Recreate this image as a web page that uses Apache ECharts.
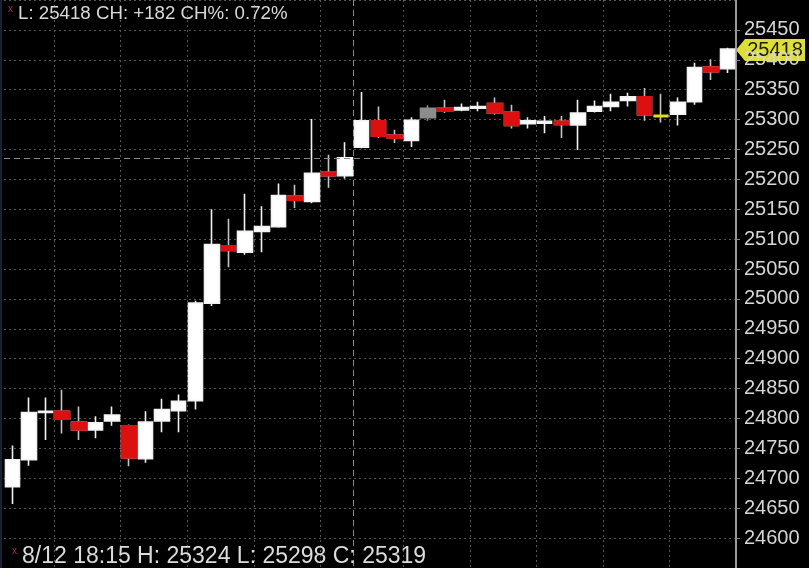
<!DOCTYPE html>
<html>
<head>
<meta charset="utf-8">
<script src="https://cdn.jsdelivr.net/npm/echarts@6/dist/echarts.min.js"></script>
<style>
html,body{margin:0;padding:0;background:#000;}
#c{width:809px;height:568px;}
</style>
</head>
<body>
<div id="c"></div>
<script>
// ---- data ----
const dateLabel = '8/12';
const times = ['10:15','10:30','10:45','11:00','11:15','11:30','11:45','13:00','13:15','13:30','13:45','14:00','14:15','14:30','14:45','15:00','15:15','15:30','15:45','16:00','16:15','17:15','17:30','17:45','18:00','18:15','18:30','18:45','19:00','19:15','19:30','19:45','20:00','20:15','20:30','20:45','21:00','21:15','21:30','21:45','22:00','22:15','22:30','22:45'];
const opens  = [24686,24731,24810,24812,24794,24781,24796,24788,24733,24796,24813,24830,24993,25089,25078,25113,25121,25172,25163,25212,25206,25254,25298,25274,25265,25303,25319,25316,25319,25327,25312,25293,25294,25297,25291,25314,25322,25332,25338,25306,25309,25330,25388,25385];
const closes = [24731,24810,24812,24799,24781,24793,24806,24734,24794,24815,24829,24993,25091,25081,25113,25121,25173,25165,25210,25206,25236,25298,25272,25269,25299,25319,25314,25320,25322,25311,25290,25298,25297,25292,25311,25322,25329,25338,25308,25306,25329,25387,25380,25418];
const lows   = [24657,24721,24764,24775,24764,24767,24788,24720,24726,24777,24777,24815,24988,25053,25074,25078,25119,25152,25160,25186,25201,25252,25269,25261,25254,25298,25311,25314,25314,25308,25285,25285,25277,25269,25249,25312,25314,25322,25298,25295,25290,25325,25366,25378];
const highs  = [24755,24835,24835,24848,24820,24804,24820,24790,24812,24833,24840,24997,25150,25134,25176,25155,25193,25191,25301,25241,25262,25346,25322,25283,25304,25324,25333,25327,25330,25337,25325,25304,25306,25306,25333,25332,25343,25345,25353,25343,25337,25395,25401,25420];
const prevClose = 25236;
const selectedTime = '18:15';
const yMin = 24550, yMax = 25500, yStep = 50;

// ---- derived ----
const n = times.length;
const selIdx = times.indexOf(selectedTime);
const last = closes[n - 1];
const ch = last - prevClose;
const chPct = (ch / prevClose * 100).toFixed(2);
function mins(t){const p=t.split(':');return +p[0]*60 + +p[1];}
let breakIdx = -1;
for (let i = 1; i < n; i++) {
  if (mins(times[i]) - mins(times[i-1]) > 15 && !times[i].endsWith(':00')) breakIdx = i;
}
const hourIdx = [];
for (let i = 1; i < n; i++) if (times[i].slice(-2) === '00') hourIdx.push(i);

const RED = '#dc1010', WHITE = '#ffffff', GRAY = '#8c8c8c', YELLOW = '#e2dc24', WICK = '#c4c4c4';
const GRID = '#565656';

const mainData = times.map((t, i) => {
  const v = [opens[i], closes[i], lows[i], highs[i]];
  if (i === selIdx) return {value: v, itemStyle: {color: GRAY, color0: GRAY, borderColor: GRAY, borderColor0: GRAY}};
  return v;
});
const overlayData = times.map((t, i) => {
  if (i === selIdx) return ['-','-','-','-'];
  const o = opens[i], c = closes[i];
  if (c < o) return [o, c, c, o];
  if (c === o) return {value: [o, c, o, c], itemStyle: {color: YELLOW, color0: YELLOW, borderColor: YELLOW, borderColor0: YELLOW, borderWidth: 3}};
  return ['-','-','-','-'];
});

const chart = echarts.init(document.getElementById('c'), null, {renderer: 'canvas'});
const FONT = '"Liberation Sans", Arial, sans-serif';

chart.setOption({
  backgroundColor: '#000000',
  animation: false,
  grid: {left: 4, right: 73, top: -7.9, bottom: -10.9, containLabel: false},
  xAxis: {
    type: 'category',
    data: times,
    boundaryGap: true,
    axisLine: {show: false},
    axisTick: {show: false},
    axisLabel: {show: false},
    splitLine: {show: false}
  },
  yAxis: {
    type: 'value',
    position: 'right',
    min: yMin, max: yMax, interval: yStep,
    axisLine: {show: true, onZero: false, lineStyle: {color: '#9a9a9a', width: 2}},
    axisTick: {show: true, length: 4, lineStyle: {color: '#8a8a8a'}},
    axisLabel: {color: '#d6d6d6', fontSize: 20, fontFamily: FONT, margin: 8, showMinLabel: false, showMaxLabel: false, formatter: (v) => String(v)},
    splitLine: {show: true, lineStyle: {color: GRID, type: [2, 3], width: 1}}
  },
  series: [
    {
      type: 'candlestick',
      data: mainData,
      barWidth: 15,
      z: 3,
      itemStyle: {color: WHITE, color0: RED, borderColor: '#f2f2f2', borderColor0: WICK, borderWidth: 1.6},
      markLine: {
        silent: true,
        symbol: ['none', 'none'],
        label: {show: false},
        lineStyle: {color: '#8a8a8a', type: [6, 4], width: 1},
        data: [{yAxis: prevClose}]
      }
    },
    {
      type: 'candlestick',
      data: overlayData,
      barWidth: 15,
      z: 4,
      itemStyle: {color: RED, color0: RED, borderColor: RED, borderColor0: RED, borderWidth: 1.6}
    }
  ]
});

// graphics computed through the chart's scales
const px = (i) => chart.convertToPixel({xAxisIndex: 0}, i);
const band = px(1) - px(0);
const yTop = chart.convertToPixel({yAxisIndex: 0}, yMax);
const yBot = chart.convertToPixel({yAxisIndex: 0}, yMin);
const yTag = chart.convertToPixel({yAxisIndex: 0}, last);
const axisX = px(n - 1) + band / 2;
const graphics = [];
// hourly vertical grid lines (dotted) at bar boundaries
hourIdx.forEach((i) => {
  const x = Math.round(px(i) - band / 2) + 0.5;
  graphics.push({type: 'line', silent: true, z: 1, shape: {x1: x, y1: yTop, x2: x, y2: yBot}, style: {stroke: GRID, lineWidth: 1, lineDash: [2, 3]}});
});
if (breakIdx > 0) {
  const bx = Math.round(px(breakIdx) - band / 2) + 0.5;
  graphics.push({type: 'line', silent: true, z: 2, shape: {x1: bx, y1: yTop, x2: bx, y2: yBot}, style: {stroke: '#8a8a8a', lineWidth: 1, lineDash: [6, 4]}});
}
graphics.push(
  {type: 'rect', left: 0, top: 0, shape: {width: 2, height: 568}, style: {fill: '#15223a'}, z: 10},
  {type: 'text', x: 8, y: 9, style: {text: 'x', fill: '#b0304a', font: '10px ' + FONT, textVerticalAlign: 'middle'}, z: 20},
  {type: 'text', x: 18, y: 14, style: {text: 'L: ' + last + ' CH: ' + (ch >= 0 ? '+' : '') + ch + ' CH%: ' + chPct + '%', fill: '#d8d8d8', font: '18.7px ' + FONT, textVerticalAlign: 'middle'}, z: 20},
  {type: 'text', x: 12, y: 551, style: {text: 'x', fill: '#b0304a', font: '10px ' + FONT, textVerticalAlign: 'middle'}, z: 20},
  {type: 'text', x: 22, y: 557, style: {text: dateLabel + ' ' + selectedTime + ' H: ' + highs[selIdx] + ' L: ' + lows[selIdx] + ' C: ' + closes[selIdx], fill: '#dcdcdc', font: '23px ' + FONT, textVerticalAlign: 'middle'}, z: 20},
  {type: 'group', x: axisX, y: yTag + 1, z: 30, children: [
    {type: 'polygon', shape: {points: [[0, 0], [9, -11], [69, -11], [69, 11], [9, 11]]}, style: {fill: '#dede38'}},
    {type: 'text', x: 39, y: 0, style: {text: String(last), fill: '#1c1c00', font: '20px ' + FONT, textAlign: 'center', textVerticalAlign: 'middle'}}
  ]}
);
chart.setOption({graphic: graphics});
</script>
</body>
</html>
